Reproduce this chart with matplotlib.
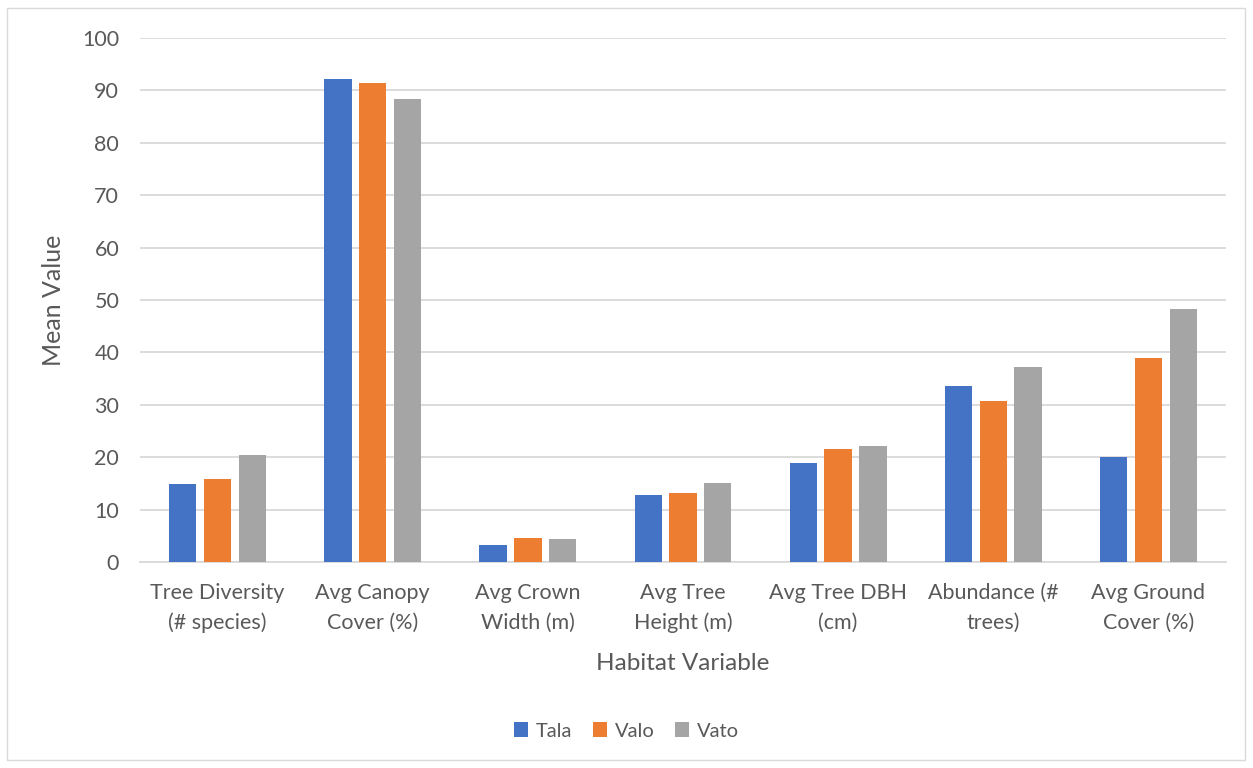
# Mean habitat variables by site
import numpy as np
import matplotlib.pyplot as plt
from matplotlib.patches import Rectangle

plt.rcParams['font.family'] = ['Lato', 'DejaVu Sans']

categories = ['Tree Diversity\n(# species)', 'Avg Canopy\nCover (%)', 'Avg Crown\nWidth (m)',
              'Avg Tree\nHeight (m)', 'Avg Tree DBH\n(cm)', 'Abundance (#\ntrees)',
              'Avg Ground\nCover (%)']
tala = [14.8, 92.1, 3.3, 12.7, 18.8, 33.6, 20.0]
valo = [15.9, 91.5, 4.5, 13.2, 21.5, 30.7, 38.9]
vato = [20.5, 88.4, 4.4, 15.1, 22.1, 37.3, 48.2]
series = ['Tala', 'Valo', 'Vato']
colors = ['#4472C4', '#ED7D31', '#A5A5A5']

fig = plt.figure(figsize=(12.53, 7.68), dpi=100)
ax = fig.add_axes([140 / 1253, 1 - 562 / 768, 1086 / 1253, 524 / 768])

x = np.arange(len(categories))
w = 0.176
step = 0.224
for i, (vals, name, c) in enumerate(zip([tala, valo, vato], series, colors)):
    ax.bar(x + (i - 1) * step, vals, width=w, color=c, label=name, zorder=3)

ax.set_xlim(-0.5, len(categories) - 0.5)
ax.set_ylim(0, 100)
ax.set_yticks(range(0, 101, 10))
ax.set_xticks(x)
ax.set_xticklabels(categories, fontsize=15.5, color='#595959', linespacing=1.6)
ax.tick_params(axis='y', labelsize=15.5, labelcolor='#595959', length=0, pad=15)
ax.tick_params(axis='x', length=0, pad=15)
ax.grid(axis='y', color='#D9D9D9', linewidth=1.3, zorder=0)
for s in ['top', 'right', 'left']:
    ax.spines[s].set_visible(False)
ax.spines['bottom'].set_color('#D9D9D9')
ax.spines['bottom'].set_linewidth(1.3)

ax.set_ylabel('Mean Value', fontsize=18, color='#595959', labelpad=12)
ax.set_xlabel('Habitat Variable', fontsize=17.5, color='#595959', labelpad=14)

fig.legend(loc='center', bbox_to_anchor=(0.5, 1 - 731 / 768), ncol=3, frameon=False,
           fontsize=14.5, labelcolor='#595959', handlelength=0.7, handleheight=0.7,
           columnspacing=1.0, handletextpad=0.4)

fig.patches.append(Rectangle((7 / 1253, 8 / 768), 1238 / 1253, 752 / 768,
                             transform=fig.transFigure, fill=False,
                             edgecolor='#D9D9D9', linewidth=1))

fig.savefig('out.png', dpi=100, facecolor='white')
